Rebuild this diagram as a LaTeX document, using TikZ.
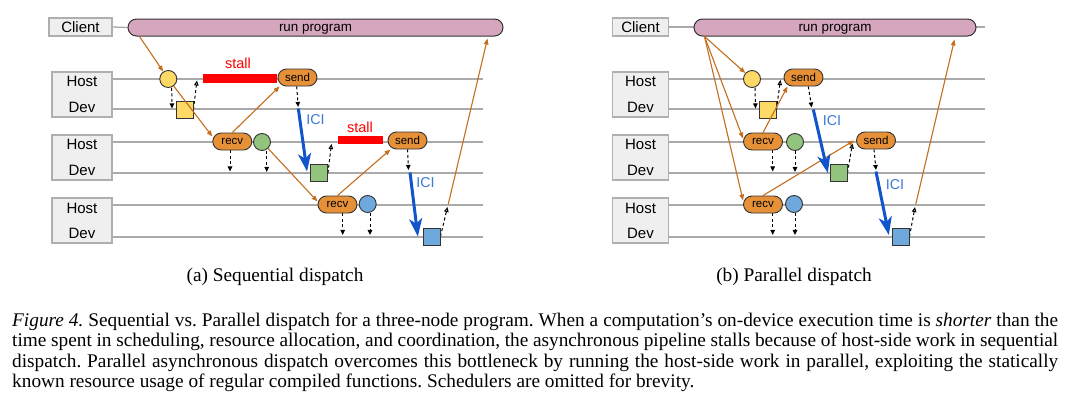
\documentclass[tikz,border=0pt]{standalone}
\usepackage{fontspec}
\setmainfont{Liberation Serif}
\newfontfamily\lsans{Liberation Sans}
\usetikzlibrary{arrows.meta,backgrounds,calc}
\frenchspacing
\definecolor{pinkbar}{RGB}{213,166,189}
\definecolor{boxfill}{RGB}{239,239,239}
\definecolor{boxdraw}{RGB}{175,175,175}
\definecolor{lanegray}{RGB}{170,170,170}
\definecolor{orangenode}{RGB}{230,145,56}
\definecolor{orangearr}{RGB}{196,110,30}
\definecolor{yellownode}{RGB}{255,217,102}
\definecolor{greennode}{RGB}{147,196,125}
\definecolor{bluenode}{RGB}{111,168,220}
\definecolor{iciblue}{RGB}{17,85,204}
\definecolor{icitext}{RGB}{60,120,216}
\definecolor{darkedge}{RGB}{51,51,51}
\tikzset{
  xlanebox/.style={draw=boxdraw, fill=boxfill, line width=1.2pt, inner sep=0pt},
  xlbl/.style={font=\lsans\fontsize{15}{15}\selectfont, anchor=base, inner sep=0pt},
  xlane/.style={draw=lanegray, line width=1.3pt},
  xbar/.style={draw=darkedge, fill=pinkbar, rounded corners=8.5pt, minimum height=17pt,
    inner sep=0pt, line width=1pt, text height=7pt, text depth=0pt,
    font=\lsans\fontsize{13.4}{13.4}\selectfont},
  xop/.style={draw=darkedge, fill=orangenode, rounded corners=8.5pt, minimum width=39pt,
    minimum height=17pt, inner sep=0pt, line width=0.9pt,
    font=\lsans\fontsize{11.5}{11.5}\selectfont},
  xcirc/.style={circle, draw=darkedge, minimum size=17pt, inner sep=0pt, line width=0.9pt},
  xsq/.style={rectangle, draw=darkedge, minimum size=17pt, inner sep=0pt, line width=0.9pt},
  xstallbar/.style={rectangle, fill=red, draw=none, inner sep=0pt},
  xstalltxt/.style={text=red, font=\lsans\fontsize{14.5}{14.5}\selectfont, anchor=base, inner sep=0pt},
  xicitxt/.style={text=icitext, font=\lsans\fontsize{14.3}{14.3}\selectfont, inner sep=0pt},
  xflow/.style={draw=orangearr, line width=1.1pt, -{Triangle[length=6pt,width=4.5pt]}},
  xdn/.style={black, line width=1pt, dash pattern=on 3pt off 2.5pt, -{Triangle[length=5pt,width=4.5pt]}},
  xup/.style={black, line width=1pt, dash pattern=on 3pt off 2.5pt, -{Triangle[open,length=5pt,width=4.5pt]}},
  xici/.style={draw=iciblue, line width=3pt, -{Stealth[length=18pt,width=13pt,inset=5pt]}},
  xsub/.style={font=\fontsize{19.3}{20.6}\selectfont, anchor=base, inner sep=0pt},
  xcap/.style={font=\fontsize{19.3}{20.6}\selectfont, anchor=base west, inner sep=0pt,
    text width=1046pt, align=justify}
}
\begin{document}
\begin{tikzpicture}[x=1pt,y=-1pt]
\useasboundingbox (0,0) rectangle (1080,407);

% ---------------- panel (a) ----------------
\node[xlanebox, minimum width=63pt, minimum height=18pt, font=\lsans\fontsize{15}{15}\selectfont] (cliA) at (80.5,27) {Client};
\node[xbar, minimum width=375pt] (barA) at (315.5,27.5) {run program};
\node[xlanebox, minimum width=60pt, minimum height=45pt] (hdA1) at (82,94.5) {};
\node[xlanebox, minimum width=60pt, minimum height=45pt] (hdA2) at (82,157.5) {};
\node[xlanebox, minimum width=60pt, minimum height=45pt] (hdA3) at (82,220.5) {};
\node[xlbl] (hA1) at (82,86) {Host};
\node[xlbl] (dA1) at (82,112.7) {Dev};
\node[xlbl] (hA2) at (82,149.5) {Host};
\node[xlbl] (dA2) at (82,175.5) {Dev};
\node[xlbl] (hA3) at (82,213) {Host};
\node[xlbl] (dA3) at (82,238.5) {Dev};

\node[xcirc, fill=yellownode] (yA1) at (168.3,79) {};
\node[xsq, fill=yellownode] (ySA1) at (184.5,109.5) {};
\node[xstallbar, minimum width=74pt, minimum height=9pt] (stA1) at (240,78.5) {};
\node[xstalltxt] (stlA1) at (238,68) {stall};
\node[xop] (sendA1) at (297.5,77.5) {send};
\node[xop] (recvA2) at (232.3,141.5) {recv};
\node[xcirc, fill=greennode] (gA2) at (262,142) {};
\node[xsq, fill=greennode] (gSA2) at (319,173) {};
\node[xstallbar, minimum width=45pt, minimum height=8pt] (stA2) at (360.5,140) {};
\node[xstalltxt] (stlA2) at (360,132) {stall};
\node[xop] (sendA2) at (407.5,140.5) {send};
\node[xop] (recvA3) at (337.5,204.5) {recv};
\node[xcirc, fill=bluenode] (bA3) at (367.7,204) {};
\node[xsq, fill=bluenode] (bSA3) at (431.5,236.5) {};
\node[xicitxt] (iciA1) at (315.5,120) {ICI};
\node[xicitxt] (iciA2) at (425.5,182.5) {ICI};
\coordinate (iciA1s) at (298.3,108.5);
\coordinate (iciA2s) at (410,172.5);
\coordinate (endA) at (447.5,207);
\coordinate (endA2) at (448.3,204);

% ---------------- panel (b) ----------------
\node[xlanebox, minimum width=55.5pt, minimum height=18pt, font=\lsans\fontsize{15}{15}\selectfont] (cliB) at (640.5,27) {Client};
\node[xlanebox, minimum width=55.5pt, minimum height=45pt] (hdB1) at (640.5,94.5) {};
\node[xlanebox, minimum width=55.5pt, minimum height=45pt] (hdB2) at (640.5,157.5) {};
\node[xlanebox, minimum width=55.5pt, minimum height=45pt] (hdB3) at (640.5,220.5) {};
\node[xlbl] (hB1) at (640.5,86) {Host};
\node[xlbl] (dB1) at (640.5,112.7) {Dev};
\node[xlbl] (hB2) at (640.5,149.5) {Host};
\node[xlbl] (dB2) at (640.5,175.5) {Dev};
\node[xlbl] (hB3) at (640.5,213) {Host};
\node[xlbl] (dB3) at (640.5,238.5) {Dev};

\node[xcirc, fill=yellownode] (yB1) at (752,79) {};
\node[xsq, fill=yellownode] (ySB1) at (767.5,109.5) {};
\node[xop] (sendB1) at (803.5,77.5) {send};
\node[xop] (recvB2) at (763,141.5) {recv};
\node[xcirc, fill=greennode] (gB2) at (795,142) {};
\node[xsq, fill=greennode] (gSB2) at (838.5,173) {};
\node[xop] (sendB2) at (876,140.5) {send};
\node[xop] (recvB3) at (763,204.5) {recv};
\node[xcirc, fill=bluenode] (bB3) at (794,204) {};
\node[xsq, fill=bluenode] (bSB3) at (900.5,236.5) {};
\node[xicitxt] (iciB1) at (832,120.5) {ICI};
\node[xicitxt] (iciB2) at (895,185) {ICI};
\coordinate (iciB1s) at (813.3,109.5);
\coordinate (iciB2s) at (876,171.5);
\coordinate (endB) at (915,207);
\coordinate (endB2) at (915.8,204);

% ---------------- background: lanes and dashed arrows ----------------
\begin{scope}[on background layer]
  \fill[white] (0,0) rectangle (1080,407);
  \draw[xlane] (cliA.east) -- (barA.west);
  \draw[xlane] (cliB.east) -- (985,27);
  \foreach \yy in {79,109,142,173,205,237} {
    \draw[xlane] (112,\yy) -- (483,\yy);
    \draw[xlane] (668.3,\yy) -- (985,\yy);
  }
  % (a)
  \draw[xdn] ([xshift=3.4pt]yA1.south) -- ++(0.3,20.5);
  \draw[xup] (ySA1.east) -- ++(3.5,-29);
  \draw[xdn] ([xshift=-0.8pt]sendA1.south) -- ++(1.5,20.5);
  \draw[xdn] ([xshift=-2.3pt]recvA2.south) -- ++(0,21);
  \draw[xdn] ([xshift=4.7pt]gA2.south) -- ++(0,21);
  \draw[xup] (gSA2.east) -- ++(3.5,-29);
  \draw[xdn] (sendA2.south) -- ++(1,20.5);
  \draw[xdn] ([xshift=5.2pt]recvA3.south) -- ++(0,21.5);
  \draw[xdn] ([xshift=2.3pt]bA3.south) -- ++(0,22);
  \draw[xup] (bSA3.east) -- (endA);
  % (b)
  \draw[xdn] ([xshift=3pt]yB1.south) -- ++(0.5,20.5);
  \draw[xup] (ySB1.east) -- ++(4,-29.5);
  \draw[xdn] ([xshift=4.8pt]sendB1.south) -- ++(3.4,21);
  \draw[xdn] ([xshift=9.7pt]recvB2.south) -- ++(0,21);
  \draw[xdn] (gB2.south) -- ++(0,21);
  \draw[xup] (gSB2.east) -- ++(5,-29.5);
  \draw[xdn] ([xshift=-2pt]sendB2.south) -- ++(2,20.5);
  \draw[xdn] ([xshift=9.7pt]recvB3.south) -- ++(0,21.5);
  \draw[xdn] ([xshift=1pt]bB3.south) -- ++(0,22);
  \draw[xup] (bSB3.east) -- (endB);
\end{scope}
\node[xbar, minimum width=282pt] (barBt) at (835,27.5) {run program};

% ---------------- orange flow arrows ----------------
\draw[xflow] ([xshift=12pt]barA.south west) -- (yA1);
\draw[xflow] (yA1) -- ([yshift=5pt]recvA2.west);
\draw[xflow] (recvA2.north) -- ([xshift=2pt]sendA1.south west);
\draw[xflow] (gA2) -- ([yshift=3pt]recvA3.west);
\draw[xflow] (recvA3.north) -- ([xshift=3pt]sendA2.south west);
\draw[xflow] (endA2) -- ([xshift=-16pt,yshift=-2pt]barA.south east);

\draw[xflow] ([xshift=11pt]barBt.south west) -- (yB1);
\draw[xflow] ([xshift=11pt]barBt.south west) -- ([yshift=3pt]recvB2.west);
\draw[xflow] ([xshift=11pt]barBt.south west) -- ([yshift=4pt]recvB3.west);
\draw[xflow] (recvB2.north) -- ([xshift=4pt]sendB1.south west);
\draw[xflow] (recvB3.north) -- ([xshift=-2pt]sendB2.west);
\draw[xflow] (endB2) -- ([xshift=-22pt,yshift=-3pt]barBt.south east);

% ---------------- ICI arrows ----------------
\draw[xici] (iciA1s) -- ([xshift=-3pt,yshift=1.5pt]gSA2.west);
\draw[xici] (iciA2s) -- ([xshift=-4.7pt]bSA3.west);
\draw[xici] (iciB1s) -- ([xshift=-1.7pt]gSB2.west);
\draw[xici] (iciB2s) -- ([xshift=-2.7pt,yshift=1.5pt]bSB3.west);

% ---------------- captions ----------------
\node[xsub] (subA) at (275,281) {(a) Sequential dispatch};
\node[xsub] (subB) at (794,281) {(b) Parallel dispatch};
\node[xcap] (cap) at (12,326) {\textit{Figure 4.} Sequential vs. Parallel dispatch for a three-node program. When a computation’s on-device execution time is \textit{shorter} than the\linebreak
time spent in scheduling, resource allocation, and coordination, the asynchronous pipeline stalls because of host-side work in sequential\linebreak
dispatch. Parallel asynchronous dispatch overcomes this bottleneck by running the host-side work in parallel, exploiting the statically\linebreak
known resource usage of regular compiled functions. Schedulers are omitted for brevity.};
\end{tikzpicture}
\end{document}
